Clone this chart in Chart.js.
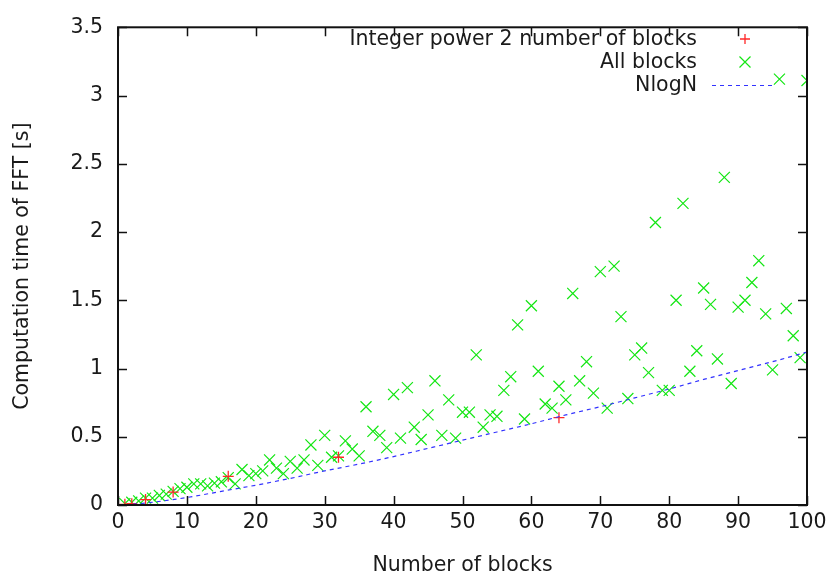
<!DOCTYPE html>
<html><head><meta charset="utf-8">
<script src="https://cdn.jsdelivr.net/npm/chart.js@4"></script>
<style>html,body{margin:0;padding:0;background:#fff}canvas{display:block}</style>
</head><body>
<div style="width:833px;height:578px"><canvas id="c" width="833" height="578"></canvas></div>
<script>
// ---- data ----
const xTicks = [0, 10, 20, 30, 40, 50, 60, 70, 80, 90, 100];
const yTicks = [0, 0.5, 1, 1.5, 2, 2.5, 3, 3.5];

const pow2Blocks = [1, 2, 4, 8, 16, 32, 64];
const pow2Times  = [0.005, 0.01, 0.04, 0.095, 0.21, 0.35, 0.64];

const allBlocks = [
  1, 2, 3, 4, 5, 6, 7, 8, 9, 10,
  11, 12, 13, 14, 15, 16, 17, 18, 19, 20,
  21, 22, 23, 24, 25, 26, 27, 28, 29, 30,
  31, 32, 33, 34, 35, 36, 37, 38, 39, 40,
  41, 42, 43, 44, 45, 46, 47, 48, 49, 50,
  51, 52, 53, 54, 55, 56, 57, 58, 59, 60,
  61, 62, 63, 64, 65, 66, 67, 68, 69, 70,
  71, 72, 73, 74, 75, 76, 77, 78, 79, 80,
  81, 82, 83, 84, 85, 86, 87, 88, 89, 90,
  91, 92, 93, 94, 95, 96, 97, 98, 99, 100
];
const allTimes = [
  0.01, 0.02, 0.03, 0.05, 0.05, 0.07, 0.08, 0.10, 0.12, 0.13,
  0.155, 0.155, 0.14, 0.16, 0.17, 0.20, 0.155, 0.26, 0.215, 0.23,
  0.25, 0.33, 0.27, 0.23, 0.32, 0.27, 0.33, 0.44, 0.29, 0.51,
  0.35, 0.36, 0.47, 0.41, 0.36, 0.72, 0.54, 0.51, 0.42, 0.81,
  0.49, 0.86, 0.57, 0.48, 0.66, 0.91, 0.51, 0.77, 0.49, 0.68,
  0.68, 1.10, 0.57, 0.66, 0.65, 0.84, 0.94, 1.32, 0.63, 1.46,
  0.98, 0.74, 0.71, 0.87, 0.77, 1.55, 0.91, 1.05, 0.82, 1.71,
  0.71, 1.75, 1.38, 0.78, 1.10, 1.15, 0.97, 2.07, 0.84, 0.84,
  1.50, 2.21, 0.98, 1.13, 1.59, 1.47, 1.07, 2.40, 0.89, 1.45,
  1.50, 1.63, 1.79, 1.40, 0.99, 3.12, 1.44, 1.24, 1.08, 3.11
];

const nlognBlocks = [1, 5, 10, 15, 20, 25, 30, 35, 40, 45, 50, 55, 60, 65, 70, 75, 80, 85, 90, 95, 100];
const nlognTimes  = [0.0, 0.02, 0.055, 0.10, 0.145, 0.195, 0.25, 0.30, 0.355, 0.415, 0.475, 0.535, 0.595, 0.66, 0.72, 0.785, 0.85, 0.92, 0.985, 1.05, 1.12];

const seriesLabels = ['Integer power 2 number of blocks', 'All blocks', 'NlogN'];
const xTitle = 'Number of blocks';
const yTitle = 'Computation time of FFT [s]';

// ---- styling ----
const FONT = 'DejaVu Sans';
const FSIZE = 20.5;
const TXT = '#1a1a1a';
const RED = 'rgb(255,40,40)';
const GREEN = 'rgb(20,230,20)';
const BLUE = 'rgb(50,50,255)';

const zip = (xs, ys) => xs.map((x, i) => ({x, y: ys[i]}));

const frameAndTicks = {
  id: 'frameAndTicks',
  afterDatasetsDraw(chart) {
    const {ctx, chartArea: a, scales} = chart;
    ctx.save();
    ctx.strokeStyle = '#111';
    ctx.lineWidth = 1.5;
    const L = 9;
    ctx.beginPath();
    xTicks.forEach(v => {
      const px = Math.round(scales.x.getPixelForValue(v)) + 0.5;
      ctx.moveTo(px, a.bottom); ctx.lineTo(px, a.bottom - L);
      ctx.moveTo(px, a.top); ctx.lineTo(px, a.top + L);
    });
    yTicks.forEach(v => {
      const py = Math.round(scales.y.getPixelForValue(v)) + 0.5;
      ctx.moveTo(a.left, py); ctx.lineTo(a.left + L, py);
      ctx.moveTo(a.right, py); ctx.lineTo(a.right - L, py);
    });
    ctx.stroke();
    ctx.lineWidth = 2;
    ctx.strokeRect(a.left, a.top, a.right - a.left, a.bottom - a.top);

    // legend (gnuplot style: right aligned text, sample on the right)
    ctx.font = FSIZE + 'px "' + FONT + '"';
    ctx.fillStyle = TXT;
    ctx.textAlign = 'right';
    ctx.textBaseline = 'middle';
    const textRight = 697, sx0 = 712, sx1 = 775, sxc = 745;
    const rows = [39, 62, 85];
    const ds = chart.data.datasets;
    rows.forEach((ry, i) => ctx.fillText(ds[i].label, textRight, ry + 1));
    // red +
    ctx.strokeStyle = RED; ctx.lineWidth = 1.3;
    ctx.beginPath();
    ctx.moveTo(sxc - 5, rows[0]); ctx.lineTo(sxc + 5, rows[0]);
    ctx.moveTo(sxc, rows[0] - 5); ctx.lineTo(sxc, rows[0] + 5);
    ctx.stroke();
    // green x
    ctx.strokeStyle = GREEN; ctx.lineWidth = 1.2;
    ctx.beginPath();
    ctx.moveTo(sxc - 5.5, rows[1] - 5.5); ctx.lineTo(sxc + 5.5, rows[1] + 5.5);
    ctx.moveTo(sxc - 5.5, rows[1] + 5.5); ctx.lineTo(sxc + 5.5, rows[1] - 5.5);
    ctx.stroke();
    // blue dashed
    ctx.strokeStyle = BLUE; ctx.lineWidth = 1.2;
    ctx.setLineDash([4, 4]);
    ctx.beginPath();
    ctx.moveTo(sx0, rows[2] + 0.5); ctx.lineTo(sx1, rows[2] + 0.5);
    ctx.stroke();
    ctx.restore();
  }
};

new Chart(document.getElementById('c'), {
  type: 'scatter',
  data: {
    datasets: [
      {
        label: seriesLabels[0],
        data: zip(pow2Blocks, pow2Times),
        pointStyle: 'cross', pointRadius: 5.5, pointHoverRadius: 5.5,
        borderColor: RED, backgroundColor: RED, pointBorderWidth: 1.3,
        showLine: false, order: 1
      },
      {
        label: seriesLabels[1],
        data: zip(allBlocks, allTimes),
        pointStyle: 'crossRot', pointRadius: 7.8, pointHoverRadius: 7.8,
        borderColor: GREEN, backgroundColor: GREEN, pointBorderWidth: 1.2,
        showLine: false, order: 2
      },
      {
        type: 'line',
        label: seriesLabels[2],
        data: zip(nlognBlocks, nlognTimes),
        borderColor: BLUE, borderWidth: 1.2, borderDash: [4, 4],
        pointRadius: 0, fill: false, cubicInterpolationMode: 'monotone',
        order: 0
      }
    ]
  },
  options: {
    responsive: false,
    animation: false,
    devicePixelRatio: 1,
    layout: {padding: {left: 0, right: 26, top: 17, bottom: 0}},
    plugins: {legend: {display: false}, tooltip: {enabled: false}},
    scales: {
      x: {
        type: 'linear', min: 0, max: 100,
        afterBuildTicks: s => { s.ticks = xTicks.map(v => ({value: v})); },
        afterFit: s => { s.height = 73; },
        grid: {display: false, drawTicks: false},
        border: {display: false},
        ticks: {color: TXT, font: {family: FONT, size: FSIZE}, padding: 5, maxRotation: 0, autoSkip: false,
                callback: v => String(v)},
        title: {display: true, text: xTitle, color: TXT, font: {family: FONT, size: FSIZE}, padding: {top: 0, bottom: 0}}
      },
      y: {
        type: 'linear', min: 0, max: 3.5,
        afterBuildTicks: s => { s.ticks = yTicks.map(v => ({value: v})); },
        afterFit: s => { s.width = 118; },
        grid: {display: false, drawTicks: false},
        border: {display: false},
        ticks: {color: TXT, font: {family: FONT, size: FSIZE}, padding: 15, autoSkip: false,
                callback: v => String(v)},
        title: {display: true, text: yTitle, color: TXT, font: {family: FONT, size: FSIZE}, padding: {top: 10, bottom: 0}}
      }
    }
  },
  plugins: [frameAndTicks]
});
</script>
</body></html>
